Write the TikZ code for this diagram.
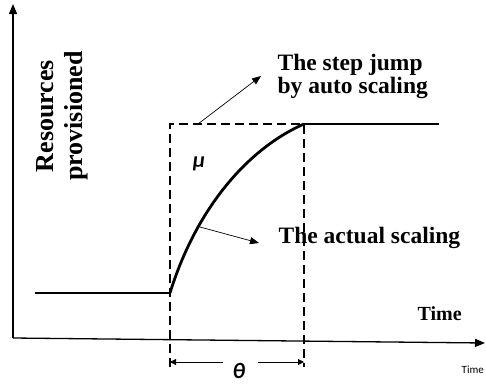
\documentclass[tikz,border=0pt]{standalone}
\usepackage{fontspec}
\setmainfont{Liberation Serif}
\newfontfamily\calfont{Carlito}
\usetikzlibrary{arrows.meta, positioning}

\begin{document}
\begin{tikzpicture}[x=1pt, y=-1pt, line width=1.3pt,
    dashline/.style={dash pattern=on 9pt off 5pt, line width=1.2pt},
    pointer/.style={line width=0.7pt, -{Triangle[length=9pt, width=7pt]}},
    axis/.style={line width=1.3pt, -{Triangle[length=10pt, width=8pt]}},
    span/.style={line width=1pt, -{Triangle[length=6pt, width=6pt]}}]
    \useasboundingbox (0,0) rectangle (486,386);

    % Axes
    \coordinate (origin) at (13,338);
    \coordinate (ytip) at (13,4);
    \coordinate (xtip) at (485,343);
    \draw[axis] (origin) -- (ytip);
    \draw[axis] (origin) -- (xtip);
    \node[font=\bfseries\fontsize{26}{29}\selectfont, rotate=90, align=center, inner sep=0]
        (resources) at (62,116) {Resources\\provisioned};
    \node[font=\bfseries\fontsize{20}{22}\selectfont, anchor=base west, inner sep=0]
        (timebold) at (417,320) {Time};
    \node[font=\calfont\fontsize{11}{12}\selectfont, anchor=base west, inner sep=0]
        (timesmall) at (461,373) {Time};

    % Resource levels
    \coordinate (low) at (35,293);
    \coordinate (start) at (170,293);
    \coordinate (topleft) at (170,124);
    \coordinate (reach) at (304,124);
    \coordinate (high) at (439,124);
    \draw (low) -- (start);
    \draw (reach) -- (high);

    % Step jump box
    \coordinate (leftfoot) at (170,367);
    \coordinate (rightfoot) at (304,367);
    \draw[dashline] (leftfoot) -- (topleft) -- (reach) -- (rightfoot);
    \node[font=\calfont\bfseries\itshape\fontsize{22}{24}\selectfont, inner sep=0]
        (mu) at (199,164) {μ};

    % Actual scaling curve
    \draw[line width=2.8pt] (start) .. controls (195,212) and (245,150) .. (reach);

    % Labels with pointers
    \coordinate (jumpfrom) at (198,124);
    \coordinate (jumpto) at (261,76);
    \draw[pointer] (jumpfrom) -- (jumpto);
    \node[font=\bfseries\fontsize{23.5}{23}\selectfont, anchor=base west, inner sep=0]
        (stepline) at (277,70) {The step jump};
    \node[font=\bfseries\fontsize{23.5}{23}\selectfont, anchor=base west, inner sep=0]
        (autoline) at (277,93) {by auto scaling};
    \coordinate (curvept) at (200,227);
    \coordinate (actualto) at (259,243);
    \draw[pointer] (curvept) -- (actualto);
    \node[font=\bfseries\fontsize{23.5}{24}\selectfont, anchor=base west, inner sep=0]
        (actuallabel) at (278,243) {The actual scaling};

    % Delay theta
    \node[font=\calfont\bfseries\itshape\fontsize{22}{24}\selectfont, inner sep=0]
        (theta) at (239,371) {θ};
    \coordinate (thl) at (223,362);
    \coordinate (thr) at (258,362);
    \coordinate (spanl) at (170,362);
    \coordinate (spanr) at (304,362);
    \draw[span] (thl) -- (spanl);
    \draw[span] (thr) -- (spanr);
\end{tikzpicture}
\end{document}
